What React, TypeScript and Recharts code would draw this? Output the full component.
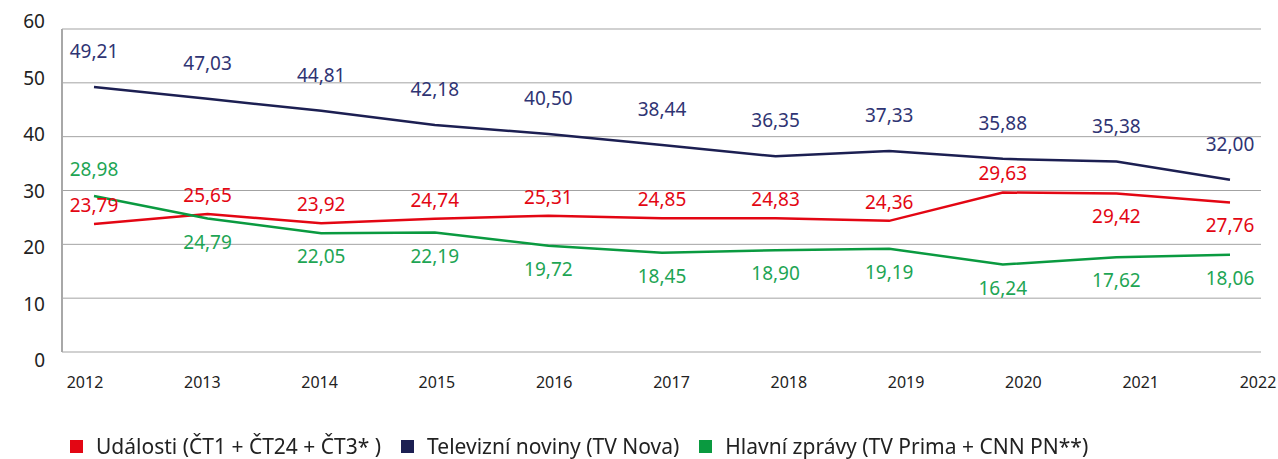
import React from "react";
import { LineChart, Line, XAxis, YAxis, CartesianGrid, LabelList } from "recharts";

const years = ["2012", "2013", "2014", "2015", "2016", "2017", "2018", "2019", "2020", "2021", "2022"];
const udalosti = [23.79, 25.65, 23.92, 24.74, 25.31, 24.85, 24.83, 24.36, 29.63, 29.42, 27.76];
const televizniNoviny = [49.21, 47.03, 44.81, 42.18, 40.5, 38.44, 36.35, 37.33, 35.88, 35.38, 32.0];
const hlavniZpravy = [28.98, 24.79, 22.05, 22.19, 19.72, 18.45, 18.9, 19.19, 16.24, 17.62, 18.06];
const yTicks = [0, 10, 20, 30, 40, 50, 60];

const seriesNames = {
  udalosti: "Události (ČT1 + ČT24 + ČT3* )",
  tv: "Televizní noviny (TV Nova)",
  hlavni: "Hlavní zprávy (TV Prima + CNN PN**)",
};

const RED = "#e30613";
const NAVY = "#1c1f52";
const NAVY_TEXT = "#2f3473";
const GREEN = "#0a9a40";
const GREEN_TEXT = "#1ea554";
const FONT = "'Noto Sans', sans-serif";

const data = years.map((year, i) => ({
  year,
  udalosti: udalosti[i],
  tv: televizniNoviny[i],
  hlavni: hlavniZpravy[i],
}));

const fmt = (v: number) => v.toFixed(2).replace(".", ",");

// label placement: negative = above the point, positive = below
const makeLabel = (color: string, offset: (i: number) => number) => (props: any) => {
  const { x, y, value, index } = props;
  return (
    <text
      x={x}
      y={y + offset(index)}
      fill={color}
      fontSize={19}
      fontFamily={FONT}
      textAnchor="middle"
      dominantBaseline="central"
    >
      {fmt(value)}
    </text>
  );
};

const XTick = (props: any) => {
  const { x, y, payload, index } = props;
  return (
    <text
      x={x - 9 + 3.7 * index}
      y={y + 34}
      fill="#222"
      fontSize={16}
      fontFamily={FONT}
      textAnchor="middle"
    >
      {payload.value}
    </text>
  );
};

const YTick = (props: any) => {
  const { x, y, payload } = props;
  return (
    <text
      x={x - 15}
      y={y + ((30 - payload.value) / 30) * 8}
      fill="#222"
      fontSize={19}
      fontFamily={FONT}
      textAnchor="end"
      dominantBaseline="central"
    >
      {payload.value}
    </text>
  );
};

const legendItems = [
  { name: seriesNames.udalosti, color: RED },
  { name: seriesNames.tv, color: NAVY },
  { name: seriesNames.hlavni, color: GREEN },
];

export default function App() {
  return (
    <div style={{ position: "fixed", left: 0, top: 0, width: 1278, height: 459, background: "#fff" }}>
      <LineChart
        width={1278}
        height={459}
        data={data}
        margin={{ top: 29, right: 17, left: 0, bottom: 0 }}
      >
        <CartesianGrid vertical={false} stroke="#a3a3a3" strokeWidth={1} />
        <XAxis
          dataKey="year"
          height={107}
          padding={{ left: 32, right: 31 }}
          axisLine={false}
          tickLine={false}
          tickSize={0}
          tick={<XTick />}
          interval={0}
        />
        <YAxis
          width={62}
          domain={[0, 60]}
          ticks={yTicks}
          axisLine={{ stroke: "#a8a8a8", strokeWidth: 2 }}
          tickLine={false}
          tickSize={0}
          tick={<YTick />}
        />
        <Line
          dataKey="tv"
          name={seriesNames.tv}
          stroke={NAVY}
          strokeWidth={2.5}
          dot={false}
          isAnimationActive={false}
        >
          <LabelList dataKey="tv" content={makeLabel(NAVY_TEXT, () => -36)} />
        </Line>
        <Line
          dataKey="udalosti"
          name={seriesNames.udalosti}
          stroke={RED}
          strokeWidth={2.5}
          dot={false}
          isAnimationActive={false}
        >
          <LabelList dataKey="udalosti" content={makeLabel(RED, (i) => (i >= 9 ? 22 : -19))} />
        </Line>
        <Line
          dataKey="hlavni"
          name={seriesNames.hlavni}
          stroke={GREEN}
          strokeWidth={2.5}
          dot={false}
          isAnimationActive={false}
        >
          <LabelList dataKey="hlavni" content={makeLabel(GREEN_TEXT, (i) => (i === 0 ? -27 : 23))} />
        </Line>
      </LineChart>
      <div
        style={{
          position: "absolute",
          left: 70,
          top: 432,
          display: "flex",
          alignItems: "center",
          fontFamily: FONT,
          fontSize: 21,
          color: "#222",
          whiteSpace: "nowrap",
        }}
      >
        {legendItems.map((item) => (
          <div key={item.name} style={{ display: "flex", alignItems: "center", marginRight: 20 }}>
            <span style={{ width: 13, height: 13, background: item.color, marginRight: 13, display: "inline-block" }} />
            <span>{item.name}</span>
          </div>
        ))}
      </div>
    </div>
  );
}
